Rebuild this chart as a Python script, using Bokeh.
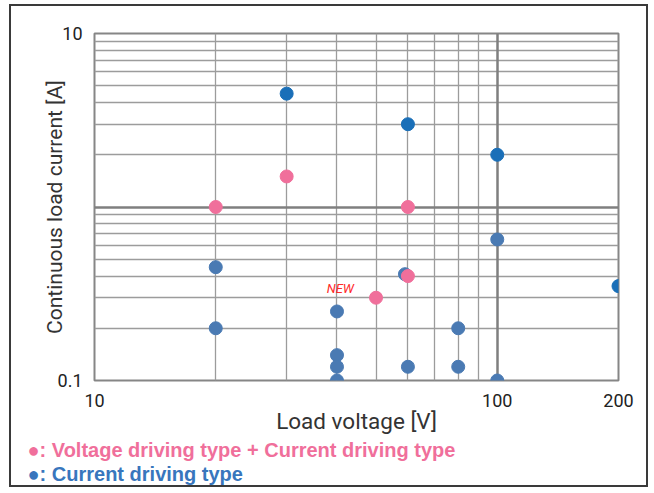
from bokeh.plotting import figure
from bokeh.models import FixedTicker, Grid, Label, Range1d, Title
from bokeh.embed import file_html
from bokeh.resources import INLINE

# ---- data ----
pink_x = [20, 30, 60, 60, 50]
pink_y = [1.0, 1.5, 1.0, 0.4, 0.3]

dark_blue_x = [30, 60, 100, 200]
dark_blue_y = [4.5, 3.0, 2.0, 0.35]

steel_blue_x = [20, 20, 40, 40, 40, 40, 59, 60, 80, 80, 100, 100]
steel_blue_y = [0.45, 0.2, 0.25, 0.14, 0.12, 0.1, 0.41, 0.12, 0.2, 0.12, 0.65, 0.1]

x_tick_values = [10, 100, 200]
y_tick_values = [0.1, 10]
x_grid_values = [20, 30, 40, 50, 60, 70, 80, 90]
y_grid_values = [0.2, 0.3, 0.4, 0.5, 0.6, 0.7, 0.8, 0.9, 2, 3, 4, 5, 6, 7, 8, 9]
x_major_grid = [100]
y_major_grid = [1]

new_label = "NEW"
new_x, new_y = 50, 0.3
legend_pink = "\u25CF: Voltage driving type + Current driving type"
legend_blue = "\u25CF: Current driving type"

PINK = "#f06f9b"
DARK_BLUE = "#1a6fb8"
STEEL_BLUE = "#4a7ab3"
LEGEND_BLUE = "#3876bd"

p = figure(width=639, height=483, x_axis_type="log", y_axis_type="log",
           x_range=Range1d(10, 200), y_range=Range1d(0.1, 10),
           output_backend="svg", toolbar_location=None,
           min_border_left=83, min_border_right=32, min_border_top=27, min_border_bottom=109)
p.styles = {"border": "2px solid #3a3a3a", "margin-left": "9px", "margin-top": "4px"}

p.outline_line_color = "#868686"
p.outline_line_width = 2

# grids
p.xgrid.ticker = FixedTicker(ticks=x_grid_values)
p.ygrid.ticker = FixedTicker(ticks=y_grid_values)
for g in (p.xgrid[0], p.ygrid[0]):
    g.grid_line_color = "#9c9c9c"
    g.grid_line_width = 1.3
p.add_layout(Grid(dimension=0, ticker=FixedTicker(ticks=x_major_grid),
                  grid_line_color="#7f7f7f", grid_line_width=2.5))
p.add_layout(Grid(dimension=1, ticker=FixedTicker(ticks=y_major_grid),
                  grid_line_color="#7f7f7f", grid_line_width=2.5))

# axes
for ax in (p.xaxis[0], p.yaxis[0]):
    ax.axis_line_color = None
    ax.major_tick_line_color = None
    ax.minor_tick_line_color = None
    ax.major_label_text_font = "Roboto"
    ax.major_label_text_font_size = "18px"
    ax.major_label_text_color = "#222222"
    ax.axis_label_text_font = "Roboto"
    ax.axis_label_text_font_style = "normal"
    ax.axis_label_text_color = "#333333"
p.xaxis.ticker = FixedTicker(ticks=x_tick_values)
p.yaxis.ticker = FixedTicker(ticks=y_tick_values)
p.xaxis.major_label_overrides = {10: "10", 100: "100", 200: "200"}
p.yaxis.major_label_overrides = {0.1: "0.1", 10: "10"}
p.xaxis.axis_label = "Load voltage [V]"
p.yaxis.axis_label = "Continuous load current [A]"
p.xaxis.axis_label_text_font_size = "22.5px"
p.yaxis.axis_label_text_font_size = "21px"
p.xaxis.major_label_standoff = 7
p.yaxis.major_label_standoff = 6
p.xaxis.axis_label_standoff = -2
p.yaxis.axis_label_standoff = -12

# points
p.scatter(steel_blue_x, steel_blue_y, size=13, color=STEEL_BLUE)
p.scatter(dark_blue_x, dark_blue_y, size=13, color=DARK_BLUE)
p.scatter(pink_x, pink_y, size=13, color=PINK)

p.add_layout(Label(x=new_x, y=new_y, text=new_label, x_offset=-22, y_offset=2,
                   text_align="right", text_baseline="bottom",
                   text_font="Roboto", text_font_style="italic",
                   text_font_size="13px", text_color="#ff2a2a"))

# legend texts below the plot
for txt, col in ((legend_pink, PINK), (legend_blue, LEGEND_BLUE)):
    p.add_layout(Title(text=txt, align="left", offset=-67, standoff=0,
                       text_font="Liberation Sans", text_font_style="bold",
                       text_font_size="20px", text_color=col), "below")

open("out.html", "w").write(file_html(p, INLINE))
